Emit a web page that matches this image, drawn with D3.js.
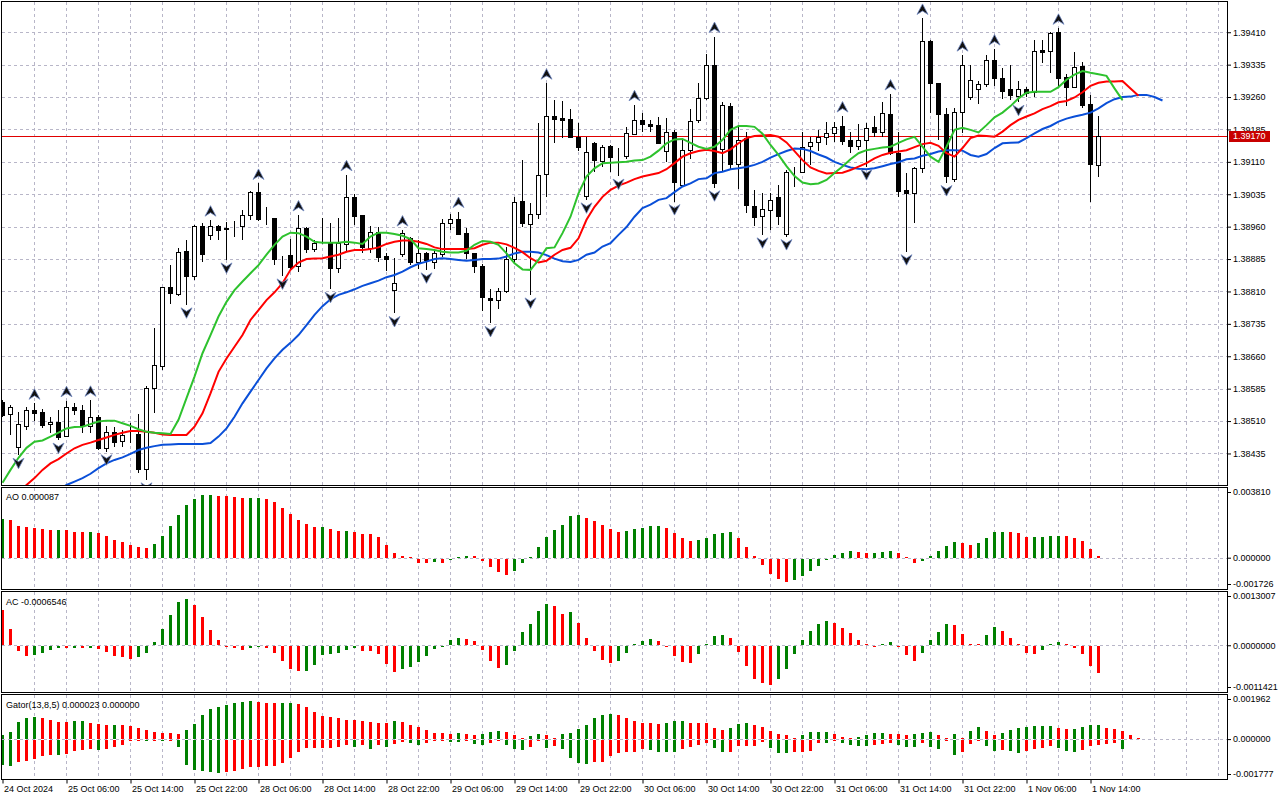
<!DOCTYPE html>
<html>
<head>
<meta charset="utf-8">
<script src="https://cdn.jsdelivr.net/npm/d3@7"></script>
<style>
  html, body { margin: 0; padding: 0; background: #fff; }
  svg { display: block; font-family: "Liberation Sans", Arial, sans-serif; }
</style>
</head>
<body>
<svg id="chart" width="1280" height="800"></svg>
<script>
// ---- data (hourly bars, 24 Oct 22:00 .. 1 Nov 15:00) ----
const timeLabels = ["24 Oct 2024", "25 Oct 06:00", "25 Oct 14:00", "25 Oct 22:00", "28 Oct 06:00", "28 Oct 14:00",
  "28 Oct 22:00", "29 Oct 06:00", "29 Oct 14:00", "29 Oct 22:00", "30 Oct 06:00", "30 Oct 14:00",
  "30 Oct 22:00", "31 Oct 06:00", "31 Oct 14:00", "31 Oct 22:00", "1 Nov 06:00", "1 Nov 14:00"];
const priceTicks = [1.38435, 1.38510, 1.38585, 1.38660, 1.38735, 1.38810, 1.38885, 1.38960,
  1.39035, 1.39110, 1.39185, 1.39260, 1.39335, 1.39410];
const lastPrice = 1.39170;

const open = [1.38555,1.38526,1.38449,1.38500,1.38536,1.38531,1.38503,1.38508,1.38476,1.38542,
  1.38536,1.38499,1.38520,1.38448,1.38484,1.38465,1.38477,1.38480,1.38398,1.38586,
  1.38638,1.38821,1.38804,1.38904,1.38847,1.38962,1.38941,1.38962,1.38957,1.38956,
  1.38960,1.38986,1.39040,1.38980,1.38979,1.38889,1.38894,1.38867,1.38956,1.38907,
  1.38923,1.38922,1.38864,1.38920,1.39028,1.38987,1.38912,1.38948,1.38891,1.38813,
  1.38896,1.38933,1.38877,1.38898,1.38879,1.38898,1.38969,1.38977,1.38945,1.38898,
  1.38868,1.38796,1.38792,1.38811,1.38885,1.39019,1.38966,1.38989,1.39081,1.39216,
  1.39211,1.39209,1.39168,1.39029,1.39153,1.39113,1.39147,1.39122,1.39122,1.39175,
  1.39207,1.39197,1.39195,1.39134,1.39178,1.39058,1.39138,1.39205,1.39257,1.39334,
  1.39139,1.39239,1.39105,1.39165,1.39008,1.38983,1.39000,1.39028,1.38943,1.39088,
  1.39087,1.39145,1.39155,1.39167,1.39176,1.39193,1.39161,1.39147,1.39161,1.39190,
  1.39178,1.39221,1.39131,1.39045,1.39037,1.39095,1.39389,1.39292,1.39220,1.39072,
  1.39225,1.39261,1.39278,1.39290,1.39346,1.39304,1.39279,1.39263,1.39279,1.39272,
  1.39369,1.39367,1.39411,1.39306,1.39284,1.39332,1.39243,1.39104];
const high = [1.38559,1.38547,1.38532,1.38543,1.38551,1.38538,1.38520,1.38536,1.38557,1.38552,
  1.38547,1.38558,1.38524,1.38499,1.38497,1.38489,1.38506,1.38526,1.38591,1.38725,
  1.38821,1.38871,1.38910,1.38929,1.38964,1.38968,1.38975,1.38964,1.38970,1.38972,
  1.38999,1.39043,1.39060,1.39005,1.38980,1.38892,1.38931,1.38987,1.38960,1.38929,
  1.38979,1.38968,1.38979,1.39080,1.39035,1.38988,1.38962,1.38960,1.38900,1.38887,
  1.38952,1.38937,1.38929,1.38902,1.38906,1.38977,1.38989,1.38995,1.38956,1.38900,
  1.38874,1.38815,1.38817,1.38914,1.39029,1.39114,1.39014,1.39199,1.39292,1.39253,
  1.39252,1.39232,1.39199,1.39168,1.39157,1.39149,1.39149,1.39141,1.39190,1.39242,
  1.39222,1.39207,1.39213,1.39211,1.39184,1.39161,1.39232,1.39292,1.39359,1.39400,
  1.39249,1.39246,1.39195,1.39178,1.39045,1.39037,1.39037,1.39056,1.39091,1.39099,
  1.39178,1.39168,1.39184,1.39203,1.39203,1.39216,1.39178,1.39198,1.39199,1.39215,
  1.39249,1.39267,1.39180,1.39084,1.39099,1.39442,1.39392,1.39293,1.39234,1.39234,
  1.39357,1.39334,1.39296,1.39357,1.39371,1.39327,1.39334,1.39296,1.39283,1.39392,
  1.39392,1.39410,1.39419,1.39313,1.39365,1.39342,1.39265,1.39215];
const low = [1.38519,1.38478,1.38431,1.38489,1.38509,1.38494,1.38482,1.38466,1.38472,1.38524,
  1.38482,1.38483,1.38443,1.38439,1.38451,1.38451,1.38459,1.38389,1.38374,1.38528,
  1.38628,1.38781,1.38800,1.38779,1.38837,1.38879,1.38929,1.38928,1.38883,1.38937,
  1.38929,1.38976,1.38974,1.38964,1.38871,1.38846,1.38860,1.38856,1.38898,1.38902,
  1.38921,1.38815,1.38852,1.38904,1.38964,1.38900,1.38898,1.38879,1.38858,1.38759,
  1.38890,1.38871,1.38861,1.38860,1.38862,1.38890,1.38952,1.38941,1.38884,1.38852,
  1.38765,1.38736,1.38769,1.38806,1.38874,1.38960,1.38802,1.38977,1.39029,1.39153,
  1.39165,1.39165,1.39134,1.39022,1.39087,1.39099,1.39087,1.39077,1.39116,1.39172,
  1.39180,1.39180,1.39153,1.39110,1.39018,1.39053,1.39116,1.39199,1.39253,1.39050,
  1.39087,1.39093,1.39047,1.38992,1.38962,1.38941,1.38952,1.38964,1.38937,1.39051,
  1.39084,1.39103,1.39134,1.39149,1.39157,1.39149,1.39131,1.39137,1.39099,1.39167,
  1.39167,1.39126,1.39028,1.38902,1.38968,1.39085,1.39222,1.39161,1.39062,1.39064,
  1.39176,1.39253,1.39244,1.39284,1.39286,1.39255,1.39253,1.39248,1.39261,1.39261,
  1.39338,1.39316,1.39283,1.39239,1.39280,1.39234,1.39018,1.39076];
const close = [1.38524,1.38543,1.38503,1.38536,1.38529,1.38501,1.38508,1.38474,1.38542,1.38534,
  1.38499,1.38520,1.38448,1.38484,1.38462,1.38478,1.38478,1.38398,1.38586,1.38640,
  1.38820,1.38806,1.38901,1.38847,1.38962,1.38898,1.38962,1.38952,1.38955,1.38957,
  1.38986,1.39040,1.38978,1.38979,1.38885,1.38888,1.38867,1.38956,1.38908,1.38922,
  1.38924,1.38864,1.38922,1.39028,1.38985,1.38912,1.38948,1.38890,1.38883,1.38830,
  1.38945,1.38877,1.38898,1.38881,1.38900,1.38969,1.38978,1.38943,1.38898,1.38867,
  1.38796,1.38792,1.38812,1.38885,1.39016,1.38968,1.38989,1.39080,1.39215,1.39210,
  1.39207,1.39167,1.39145,1.39132,1.39114,1.39145,1.39121,1.39121,1.39176,1.39207,
  1.39197,1.39193,1.39154,1.39178,1.39062,1.39138,1.39205,1.39257,1.39334,1.39060,
  1.39242,1.39105,1.39161,1.39010,1.38983,1.39000,1.39022,1.38985,1.39087,1.39087,
  1.39145,1.39155,1.39167,1.39176,1.39190,1.39159,1.39147,1.39161,1.39188,1.39178,
  1.39222,1.39130,1.39043,1.39037,1.39095,1.39389,1.39292,1.39220,1.39076,1.39226,
  1.39334,1.39300,1.39290,1.39346,1.39304,1.39275,1.39265,1.39279,1.39270,1.39367,
  1.39365,1.39408,1.39305,1.39284,1.39330,1.39242,1.39104,1.39170];

// bars carrying a fractal arrow
const fractalUp = [4, 8, 11, 26, 32, 37, 43, 50, 57, 68, 79, 89, 105, 111, 115, 120, 124, 132];
const fractalDown = [2, 7, 13, 18, 23, 28, 35, 41, 49, 53, 61, 66, 73, 77, 84, 89, 95, 98, 108, 113, 118, 127];

// Alligator lines, as drawn (already shifted); first slot index given separately
const jawStart = 7;
const jaw = [1.38350,1.38362,1.38370,1.38378,1.38388,1.38401,1.38412,1.38420,1.38426,1.38434,
  1.38443,1.38448,1.38452,1.38455,1.38456,1.38457,1.38457,1.38457,1.38457,1.38459,
  1.38474,1.38493,1.38520,1.38551,1.38578,1.38605,1.38632,1.38655,1.38675,1.38691,
  1.38709,1.38732,1.38756,1.38776,1.38792,1.38802,1.38808,1.38815,1.38823,1.38829,
  1.38835,1.38843,1.38848,1.38856,1.38866,1.38874,1.38879,1.38885,1.38887,1.38885,
  1.38883,1.38881,1.38883,1.38885,1.38885,1.38886,1.38891,1.38898,1.38902,1.38902,
  1.38900,1.38894,1.38886,1.38880,1.38878,1.38883,1.38895,1.38900,1.38914,1.38922,
  1.38941,1.38959,1.38983,1.39003,1.39011,1.39022,1.39026,1.39040,1.39053,1.39060,
  1.39070,1.39072,1.39084,1.39087,1.39093,1.39095,1.39098,1.39103,1.39110,1.39120,
  1.39128,1.39135,1.39141,1.39140,1.39135,1.39127,1.39120,1.39110,1.39103,1.39097,
  1.39094,1.39093,1.39095,1.39100,1.39105,1.39109,1.39116,1.39118,1.39124,1.39128,
  1.39134,1.39137,1.39137,1.39136,1.39126,1.39122,1.39128,1.39142,1.39153,1.39154,
  1.39155,1.39165,1.39176,1.39186,1.39193,1.39203,1.39210,1.39215,1.39219,1.39224,
  1.39234,1.39246,1.39255,1.39260,1.39261,1.39265,1.39265,1.39260,1.39252];
const teethStart = 2;
const teeth = [1.38345,1.38362,1.38378,1.38397,1.38412,1.38422,1.38435,1.38447,1.38455,1.38460,
  1.38466,1.38472,1.38478,1.38483,1.38487,1.38487,1.38485,1.38483,1.38479,1.38478,
  1.38478,1.38478,1.38497,1.38528,1.38574,1.38624,1.38655,1.38682,1.38709,1.38744,
  1.38767,1.38790,1.38808,1.38829,1.38860,1.38877,1.38885,1.38886,1.38887,1.38891,
  1.38895,1.38902,1.38906,1.38906,1.38908,1.38912,1.38920,1.38925,1.38928,1.38928,
  1.38925,1.38920,1.38912,1.38908,1.38908,1.38908,1.38908,1.38910,1.38918,1.38923,
  1.38923,1.38919,1.38911,1.38901,1.38887,1.38877,1.38881,1.38895,1.38906,1.38911,
  1.38933,1.38976,1.39006,1.39029,1.39045,1.39055,1.39062,1.39070,1.39076,1.39080,
  1.39084,1.39093,1.39107,1.39122,1.39130,1.39135,1.39138,1.39135,1.39130,1.39139,
  1.39153,1.39165,1.39170,1.39171,1.39172,1.39168,1.39155,1.39135,1.39114,1.39097,
  1.39089,1.39083,1.39084,1.39085,1.39091,1.39099,1.39107,1.39118,1.39126,1.39131,
  1.39134,1.39137,1.39144,1.39151,1.39154,1.39147,1.39130,1.39122,1.39142,1.39165,
  1.39171,1.39170,1.39168,1.39180,1.39195,1.39207,1.39215,1.39222,1.39232,1.39239,
  1.39248,1.39251,1.39259,1.39271,1.39286,1.39293,1.39296,1.39296,1.39297,1.39280,
  1.39263];
const lipsStart = 0;
const lips = [1.38367,1.38397,1.38425,1.38448,1.38462,1.38465,1.38474,1.38483,1.38493,1.38496,
  1.38497,1.38503,1.38509,1.38511,1.38511,1.38505,1.38499,1.38491,1.38485,1.38483,
  1.38482,1.38480,1.38513,1.38563,1.38613,1.38667,1.38709,1.38752,1.38786,1.38813,
  1.38833,1.38852,1.38871,1.38895,1.38918,1.38937,1.38946,1.38945,1.38937,1.38925,
  1.38923,1.38923,1.38923,1.38925,1.38923,1.38920,1.38937,1.38946,1.38946,1.38943,
  1.38939,1.38931,1.38910,1.38908,1.38906,1.38902,1.38900,1.38900,1.38904,1.38918,
  1.38927,1.38925,1.38918,1.38898,1.38875,1.38861,1.38860,1.38883,1.38910,1.38912,
  1.38945,1.38983,1.39037,1.39076,1.39095,1.39107,1.39108,1.39109,1.39110,1.39113,
  1.39114,1.39122,1.39136,1.39153,1.39162,1.39163,1.39154,1.39145,1.39140,1.39145,
  1.39161,1.39184,1.39193,1.39193,1.39191,1.39175,1.39149,1.39126,1.39100,1.39077,
  1.39062,1.39058,1.39060,1.39068,1.39084,1.39099,1.39116,1.39130,1.39137,1.39140,
  1.39143,1.39145,1.39154,1.39162,1.39168,1.39145,1.39122,1.39110,1.39145,1.39184,
  1.39189,1.39184,1.39178,1.39195,1.39213,1.39224,1.39239,1.39257,1.39270,1.39272,
  1.39272,1.39272,1.39283,1.39300,1.39312,1.39320,1.39316,1.39313,1.39309,1.39280,
  1.39253];

// Awesome Oscillator
const aoValues = [2083e-6,2046e-6,1699e-6,1663e-6,1608e-6,1535e-6,1480e-6,1485e-6,1478e-6,1407e-6,
  1370e-6,1375e-6,1315e-6,1151e-6,987e-6,859e-6,713e-6,603e-6,548e-6,767e-6,
  1151e-6,1699e-6,2302e-6,2850e-6,3179e-6,3398e-6,3405e-6,3343e-6,3338e-6,3289e-6,
  3234e-6,3238e-6,3242e-6,3179e-6,3015e-6,2686e-6,2357e-6,2028e-6,1809e-6,1663e-6,
  1668e-6,1535e-6,1425e-6,1430e-6,1389e-6,1297e-6,1261e-6,1114e-6,713e-6,274e-6,
  110e-6,18e-6,-219e-6,-256e-6,-201e-6,-219e-6,-91e-6,18e-6,73e-6,70e-6,
  -110e-6,-438e-6,-749e-6,-859e-6,-694e-6,-256e-6,37e-6,566e-6,1114e-6,1480e-6,
  1772e-6,2247e-6,2302e-6,2138e-6,1973e-6,1754e-6,1535e-6,1370e-6,1425e-6,1535e-6,
  1589e-6,1699e-6,1705e-6,1589e-6,1315e-6,1096e-6,932e-6,987e-6,1096e-6,1261e-6,
  1315e-6,1370e-6,1096e-6,603e-6,110e-6,-329e-6,-822e-6,-1096e-6,-1261e-6,-1151e-6,
  -932e-6,-658e-6,-384e-6,-30e-6,146e-6,256e-6,365e-6,311e-6,256e-6,260e-6,
  311e-6,365e-6,256e-6,37e-6,-219e-6,-110e-6,91e-6,365e-6,639e-6,859e-6,
  804e-6,694e-6,804e-6,1078e-6,1407e-6,1412e-6,1405e-6,1334e-6,1114e-6,1133e-6,
  1142e-6,1151e-6,1188e-6,1169e-6,1078e-6,914e-6,475e-6,87e-6];

// Accelerator Oscillator
const acValues = [848e-6,395e-6,-115e-6,-247e-6,-222e-6,-165e-6,-91e-6,-41e-6,-49e-6,-41e-6,
  -50e-6,-40e-6,-66e-6,-140e-6,-239e-6,-263e-6,-296e-6,-263e-6,-165e-6,74e-6,
  395e-6,741e-6,1037e-6,1111e-6,963e-6,683e-6,370e-6,123e-6,-8e-6,-49e-6,
  -91e-6,-33e-6,-16e-6,-41e-6,-165e-6,-362e-6,-551e-6,-609e-6,-593e-6,-444e-6,
  -222e-6,-198e-6,-165e-6,-91e-6,-41e-6,-115e-6,-118e-6,-189e-6,-420e-6,-634e-6,
  -560e-6,-494e-6,-387e-6,-239e-6,-66e-6,-15e-6,123e-6,173e-6,148e-6,99e-6,
  -91e-6,-362e-6,-518e-6,-444e-6,-115e-6,321e-6,518e-6,839e-6,988e-6,938e-6,
  765e-6,815e-6,543e-6,173e-6,-115e-6,-337e-6,-412e-6,-362e-6,-165e-6,5e-6,
  99e-6,148e-6,99e-6,-16e-6,-239e-6,-387e-6,-412e-6,-198e-6,5e-6,222e-6,
  247e-6,173e-6,-148e-6,-486e-6,-782e-6,-881e-6,-930e-6,-782e-6,-560e-6,-189e-6,
  123e-6,346e-6,518e-6,593e-6,543e-6,420e-6,296e-6,123e-6,8e-6,-2e-6,
  8e-6,74e-6,-20e-6,-222e-6,-362e-6,-165e-6,123e-6,321e-6,518e-6,494e-6,
  272e-6,25e-6,18e-6,247e-6,444e-6,346e-6,173e-6,10e-6,-165e-6,-198e-6,
  -91e-6,5e-6,74e-6,25e-6,-41e-6,-189e-6,-469e-6,-654.6e-6];

// Gator oscillator: upper |jaw-teeth|, lower -|teeth-lips|
const gatorUpper = [181e-6,317e-6,771e-6,907e-6,952e-6,907e-6,861e-6,771e-6,768e-6,775e-6,
  780e-6,725e-6,680e-6,635e-6,640e-6,632e-6,589e-6,499e-6,408e-6,317e-6,
  272e-6,268e-6,227e-6,408e-6,680e-6,1043e-6,1315e-6,1405e-6,1496e-6,1587e-6,
  1632e-6,1677e-6,1632e-6,1587e-6,1580e-6,1585e-6,1590e-6,1541e-6,1405e-6,1179e-6,
  997e-6,952e-6,907e-6,861e-6,861e-6,816e-6,771e-6,725e-6,725e-6,816e-6,
  771e-6,635e-6,544e-6,408e-6,272e-6,272e-6,227e-6,272e-6,227e-6,181e-6,
  227e-6,317e-6,363e-6,317e-6,181e-6,45e-6,136e-6,227e-6,181e-6,45e-6,
  227e-6,272e-6,453e-6,635e-6,907e-6,1043e-6,1088e-6,1043e-6,907e-6,816e-6,
  725e-6,725e-6,680e-6,725e-6,816e-6,816e-6,725e-6,725e-6,725e-6,499e-6,
  408e-6,499e-6,680e-6,725e-6,635e-6,544e-6,363e-6,242e-6,181e-6,30e-6,
  181e-6,317e-6,317e-6,317e-6,227e-6,91e-6,10e-6,91e-6,181e-6,272e-6,
  272e-6,227e-6,227e-6,181e-6,227e-6,272e-6,317e-6,181e-6,45e-6,227e-6,
  5e-6,363e-6,544e-6,363e-6,181e-6,272e-6,408e-6,499e-6,544e-6,589e-6,
  589e-6,589e-6,499e-6,453e-6,455e-6,544e-6,635e-6,635e-6,499e-6,453e-6,
  363e-6,181e-6,23e-6];
const gatorLower = [-1103e-6,-1148e-6,-967e-6,-922e-6,-846e-6,-710e-6,-665e-6,-672e-6,-620e-6,-484e-6,
  -438e-6,-393e-6,-440e-6,-393e-6,-302e-6,-212e-6,-60e-6,-30e-6,-34e-6,-15e-6,
  -60e-6,-30e-6,-302e-6,-1103e-6,-1330e-6,-1375e-6,-1405e-6,-1450e-6,-1420e-6,-1360e-6,
  -1269e-6,-1179e-6,-1163e-6,-1133e-6,-1118e-6,-1027e-6,-801e-6,-529e-6,-363e-6,-363e-6,
  -348e-6,-348e-6,-302e-6,-212e-6,-302e-6,-212e-6,-393e-6,-212e-6,-302e-6,-166e-6,
  -76e-6,-121e-6,-227e-6,-121e-6,-45e-6,-30e-6,-76e-6,-76e-6,-45e-6,-166e-6,
  -212e-6,-121e-6,-30e-6,-212e-6,-408e-6,-438e-6,-302e-6,-30e-6,-348e-6,-257e-6,
  -393e-6,-800e-6,-1027e-6,-1073e-6,-952e-6,-952e-6,-680e-6,-589e-6,-529e-6,-529e-6,
  -393e-6,-438e-6,-529e-6,-529e-6,-529e-6,-393e-6,-302e-6,-212e-6,-121e-6,-348e-6,
  -529e-6,-514e-6,-272e-6,-257e-6,-257e-6,-76e-6,-348e-6,-574e-6,-574e-6,-529e-6,
  -529e-6,-484e-6,-121e-6,-136e-6,-45e-6,-136e-6,-227e-6,-272e-6,-272e-6,-212e-6,
  -166e-6,-121e-6,-227e-6,-302e-6,-302e-6,-121e-6,-317e-6,-408e-6,-60e-6,-635e-6,
  -544e-6,-181e-6,-45e-6,-257e-6,-499e-6,-453e-6,-499e-6,-589e-6,-499e-6,-393e-6,
  -363e-6,-272e-6,-363e-6,-499e-6,-544e-6,-453e-6,-272e-6,-227e-6,-166e-6,-121e-6,
  -408e-6,0,0];

// ---- layout ----
const plotLeft = 2, plotRight = 1227;
const panel = {
  main:  { top: 2,     bottom: 485.5 },
  ao:    { top: 487.5, bottom: 589.5 },
  ac:    { top: 591.5, bottom: 692.5 },
  gator: { top: 694.5, bottom: 779.5 }
};
const GREEN = "#008000", RED = "#ff0000";
const gridColor = "#b8b6c8";
const fontFamily = "'Liberation Sans', Arial, sans-serif";

const svg = d3.select("#chart");

// bar index -> pixel (8px per hourly bar)
const x = d3.scaleLinear().domain([0, 153]).range([2.5, 1226.5]);
const yMain = d3.scaleLinear().domain([1.38362, 1.39480]).range([485, 2]);
const yAO = d3.scaleLinear().domain([-0.001726, 0.003810]).range([panel.ao.bottom, panel.ao.top]);
const yAC = d3.scaleLinear().domain([-0.0011421, 0.0013007]).range([panel.ac.bottom, panel.ac.top]);
const yGator = d3.scaleLinear().domain([-0.001777, 0.001962]).range([panel.gator.bottom, panel.gator.top]);

const defs = svg.append("defs");
Object.keys(panel).forEach(k => {
  defs.append("clipPath").attr("id", "clip-" + k)
    .append("rect")
    .attr("x", plotLeft).attr("y", panel[k].top)
    .attr("width", plotRight - plotLeft).attr("height", panel[k].bottom - panel[k].top);
});

svg.append("rect").attr("width", 1280).attr("height", 800).attr("fill", "#fff");

// vertical grid in every panel, every 4 bars
function vGrid(key) {
  const g = svg.append("g").attr("clip-path", "url(#clip-" + key + ")");
  g.selectAll("line").data(d3.range(1, 39).map(k => k * 4)).enter().append("line")
    .attr("x1", d => x(d)).attr("x2", d => x(d))
    .attr("y1", panel[key].top).attr("y2", panel[key].bottom)
    .attr("stroke", gridColor).attr("stroke-dasharray", "3,3")
    .attr("shape-rendering", "crispEdges");
}
Object.keys(panel).forEach(vGrid);

// horizontal grid in main panel
svg.append("g").selectAll("line").data(priceTicks).enter().append("line")
  .attr("x1", plotLeft).attr("x2", plotRight)
  .attr("y1", d => Math.round(yMain(d)) + 0.5).attr("y2", d => Math.round(yMain(d)) + 0.5)
  .attr("stroke", gridColor).attr("stroke-dasharray", "3,3")
  .attr("shape-rendering", "crispEdges");

// zero lines in indicator panels
[["ao", yAO], ["ac", yAC], ["gator", yGator]].forEach(([k, y]) => {
  svg.append("line")
    .attr("x1", plotLeft).attr("x2", plotRight)
    .attr("y1", Math.round(y(0)) + 0.5).attr("y2", Math.round(y(0)) + 0.5)
    .attr("stroke", gridColor).attr("stroke-dasharray", "3,3")
    .attr("shape-rendering", "crispEdges");
});

// ---- main panel ----
const main = svg.append("g").attr("clip-path", "url(#clip-main)");

// current price line
main.append("line")
  .attr("x1", plotLeft).attr("x2", plotRight)
  .attr("y1", Math.round(yMain(lastPrice)) + 0.5).attr("y2", Math.round(yMain(lastPrice)) + 0.5)
  .attr("stroke", "#e00000").attr("shape-rendering", "crispEdges");

const candles = open.map((o, i) => ({ i, o, h: high[i], l: low[i], c: close[i] }));

const cg = main.append("g").attr("shape-rendering", "crispEdges");
cg.selectAll("line.wick").data(candles).enter().append("line")
  .attr("class", "wick")
  .attr("x1", d => x(d.i)).attr("x2", d => x(d.i))
  .attr("y1", d => yMain(d.h)).attr("y2", d => yMain(d.l))
  .attr("stroke", "#000");

cg.selectAll("rect.body").data(candles).enter().append("rect")
  .attr("class", "body")
  .attr("x", d => x(d.i) - 2)
  .attr("width", 4)
  .attr("y", d => Math.round(yMain(Math.max(d.o, d.c))) + 0.5)
  .attr("height", d => Math.max(0, Math.round(Math.abs(yMain(d.o) - yMain(d.c)))))
  .attr("fill", d => d.c < d.o ? "#000" : "#fff")
  .attr("stroke", "#000");

// alligator
function lineData(start, vals) { return vals.map((v, k) => ({ i: start + k, v })); }
const alligatorLine = d3.line().x(d => x(d.i)).y(d => yMain(d.v));
[[jawStart, jaw, "#0a4fd8"], [teethStart, teeth, "#ff0000"], [lipsStart, lips, "#2ec22e"]].forEach(([s, vals, col]) => {
  main.append("path")
    .datum(lineData(s, vals))
    .attr("d", alligatorLine)
    .attr("fill", "none")
    .attr("stroke", col)
    .attr("stroke-width", 2);
});

// fractal arrows
const upArrow = "M0,-5.5 L5.5,5 L0,1.5 L-5.5,5 Z";
const downArrow = "M0,5.5 L5.5,-5 L0,-1.5 L-5.5,-5 Z";
main.selectAll("path.fup").data(fractalUp).enter().append("path")
  .attr("class", "fup")
  .attr("d", upArrow)
  .attr("transform", i => "translate(" + x(i) + "," + (yMain(high[i]) - 9) + ")")
  .attr("fill", "#111").attr("stroke", "#6f86c0").attr("stroke-width", 0.8);
main.selectAll("path.fdn").data(fractalDown).enter().append("path")
  .attr("class", "fdn")
  .attr("d", downArrow)
  .attr("transform", i => "translate(" + x(i) + "," + (yMain(low[i]) + 8) + ")")
  .attr("fill", "#111").attr("stroke", "#6f86c0").attr("stroke-width", 0.8);

// ---- histograms ----
function barColors(vals, first, useAbs) {
  let prev = first;
  return vals.map((v, i) => {
    if (i > 0) {
      const a = useAbs ? Math.abs(v) : v;
      const b = useAbs ? Math.abs(vals[i - 1]) : vals[i - 1];
      if (a > b) prev = GREEN; else if (a < b) prev = RED;
    }
    return prev;
  });
}
function drawHist(key, vals, y, colors) {
  const g = svg.append("g").attr("clip-path", "url(#clip-" + key + ")").attr("shape-rendering", "crispEdges");
  const y0 = Math.round(y(0));
  g.selectAll("rect").data(vals.map((v, i) => ({ v, i, c: colors[i] })).filter(d => d.v !== 0))
    .enter().append("rect")
    .attr("x", d => x(d.i) - 1.5)
    .attr("width", 3)
    .attr("y", d => d.v > 0 ? Math.min(Math.round(y(d.v)), y0 - 1) : y0 + 1)
    .attr("height", d => Math.max(1, Math.abs(Math.round(y(d.v)) - y0)))
    .attr("fill", d => d.c);
}
drawHist("ao", aoValues, yAO, barColors(aoValues, GREEN, false));
drawHist("ac", acValues, yAC, barColors(acValues, RED, false));
drawHist("gator", gatorUpper, yGator, barColors(gatorUpper, GREEN, true));
drawHist("gator", gatorLower, yGator, barColors(gatorLower, GREEN, true));

// ---- frames ----
Object.keys(panel).forEach(k => {
  svg.append("rect")
    .attr("x", 1.5).attr("y", k === "main" ? 1.5 : panel[k].top)
    .attr("width", plotRight - 1.5)
    .attr("height", panel[k].bottom - (k === "main" ? 1.5 : panel[k].top))
    .attr("fill", "none").attr("stroke", "#000").attr("shape-rendering", "crispEdges");
});

// ---- axes ----
function styleAxis(g) {
  g.select(".domain").remove();
  g.attr("font-family", fontFamily).attr("font-size", 9);
  g.selectAll(".tick line").attr("stroke", "#000");
  g.selectAll(".tick text").attr("fill", "#000");
}
svg.append("g")
  .attr("transform", "translate(" + plotRight + ",0)")
  .call(d3.axisRight(yMain).tickValues(priceTicks).tickFormat(d => d.toFixed(5)).tickSize(4).tickPadding(2))
  .call(styleAxis);

function indicatorAxis(y, digits) {
  const [lo, hi] = y.domain();
  const g = svg.append("g")
    .attr("transform", "translate(" + plotRight + ",0)")
    .call(d3.axisRight(y).tickValues([lo, 0, hi]).tickFormat(d => d.toFixed(digits)).tickSize(4).tickPadding(2))
    .call(styleAxis);
  g.selectAll(".tick").filter(d => d === hi).attr("transform", "translate(0," + (y(hi) + 5) + ")");
  g.selectAll(".tick").filter(d => d === lo).attr("transform", "translate(0," + (y(lo) - 5) + ")");
}
indicatorAxis(yAO, 6);
indicatorAxis(yAC, 7);
indicatorAxis(yGator, 6);

// time axis
const tAxis = svg.append("g")
  .attr("transform", "translate(0," + panel.gator.bottom + ")")
  .call(d3.axisBottom(x).tickValues(timeLabels.map((t, k) => k * 8)).tickFormat((d, k) => timeLabels[k]).tickSize(4).tickPadding(2))
  .call(styleAxis);
tAxis.selectAll(".tick text").attr("text-anchor", "start").attr("x", 1).attr("dy", "0.71em");

// current price tag (drawn over the 1.39185 label, as in the terminal)
svg.append("rect")
  .attr("x", 1229).attr("y", Math.round(yMain(lastPrice)) - 5)
  .attr("width", 41).attr("height", 11)
  .attr("fill", "#c80000");
svg.append("text")
  .attr("x", 1233).attr("y", yMain(lastPrice) + 3.5)
  .attr("font-family", fontFamily).attr("font-size", 9).attr("fill", "#fff")
  .text(lastPrice.toFixed(5));

// indicator captions
const captions = [
  ["AO " + aoValues[aoValues.length - 1].toFixed(6), panel.ao.top + 12.5],
  ["AC " + acValues[acValues.length - 1].toFixed(7), panel.ac.top + 13.5],
  ["Gator(13,8,5) " + gatorUpper[gatorUpper.length - 1].toFixed(6) + " " + Math.abs(gatorLower[gatorLower.length - 1]).toFixed(6), panel.gator.top + 13]
];
svg.selectAll("text.cap").data(captions).enter().append("text")
  .attr("class", "cap")
  .attr("x", 6).attr("y", d => d[1])
  .attr("font-family", fontFamily).attr("font-size", 9).attr("fill", "#000")
  .text(d => d[0]);
</script>
</body>
</html>
